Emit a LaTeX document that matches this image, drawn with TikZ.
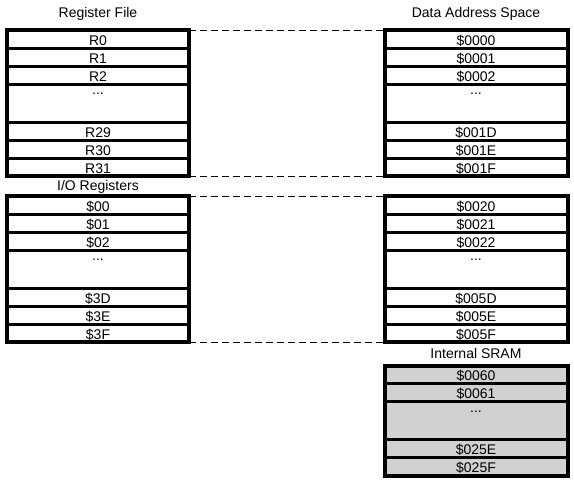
\documentclass[tikz,border=0pt]{standalone}
\usepackage{fontspec}
\setmainfont{Liberation Sans}
\definecolor{sramgray}{gray}{0.82}
\tikzset{
  block/.style={draw, line width=4pt, minimum width=182pt, minimum height=146pt,
    inner sep=0pt, outer sep=0pt, anchor=north west},
  sep/.style={line width=3pt},
  lbl/.style={anchor=base, inner sep=0pt, font=\fontsize{14}{16}\selectfont},
  link/.style={line width=1pt, dash pattern=on 7pt off 4pt},
}
\begin{document}
\begin{tikzpicture}[x=1pt, y=-1pt]
  \useasboundingbox (0,0) rectangle (574,480);
  % the five blocks
  \node[block] (rf) at (7,30) {};
  \node[block] (io) at (7,196) {};
  \node[block, minimum width=183pt] (ds) at (384.5,30) {};
  \node[block, minimum width=183pt] (dsio) at (384.5,196) {};
  \node[block, minimum width=183pt, minimum height=110pt, fill=sramgray] (sram) at (384.5,365.5) {};
  % row separators
  \foreach \b in {rf,io,ds,dsio}
    \foreach \d in {18,36,54,92,110,128}
      \draw[sep] ([yshift=-\d]\b.north west) -- ([yshift=-\d]\b.north east);
  \foreach \d in {18,36,74,92}
    \draw[sep] ([yshift=-\d]sram.north west) -- ([yshift=-\d]sram.north east);
  % titles
  \node[lbl] (rftitle) at ([yshift=13]rf.north) {Register File};
  \node[lbl] (dstitle) at ([yshift=12.5]ds.north) {Data Address Space};
  \node[lbl] (iotitle) at ([yshift=6]io.north) {I/O Registers};
  \node[lbl] (sramtitle) at ([yshift=7.5]sram.north) {Internal SRAM};
  % row labels
  \foreach \d/\t in {15/R0,33/R1,51/R2,107/R29,125/R30,143/R31}
    \node[lbl] (rf-\d) at ([yshift=-\d]rf.north) {\t};
  \foreach \d/\t in {15/\$00,33/\$01,51/\$02,107/\$3D,125/\$3E,143/\$3F}
    \node[lbl] (io-\d) at ([yshift=-\d]io.north) {\t};
  \foreach \d/\t in {15/\$0000,33/\$0001,51/\$0002,107/\$001D,125/\$001E,143/\$001F}
    \node[lbl] (ds-\d) at ([yshift=-\d]ds.north) {\t};
  \foreach \d/\t in {15/\$0020,33/\$0021,51/\$0022,107/\$005D,125/\$005E,143/\$005F}
    \node[lbl] (dsio-\d) at ([yshift=-\d]dsio.north) {\t};
  \foreach \d/\t in {15/\$0060,33/\$0061,89/\$025E,107/\$025F}
    \node[lbl] (sram-\d) at ([yshift=-\d]sram.north) {\t};
  % ellipsis rows
  \foreach \b/\d in {rf/64,io/64,ds/64,dsio/64,sram/47}
    \node[lbl] (\b-gap) at ([yshift=-\d]\b.north) {...};
  % dashed links between the blocks
  \draw[link] (rf.north east) -- (ds.north west);
  \draw[link] (rf.south east) -- (ds.south west);
  \draw[link] (io.north east) -- (dsio.north west);
  \draw[link] (io.south east) -- (dsio.south west);
\end{tikzpicture}
\end{document}
